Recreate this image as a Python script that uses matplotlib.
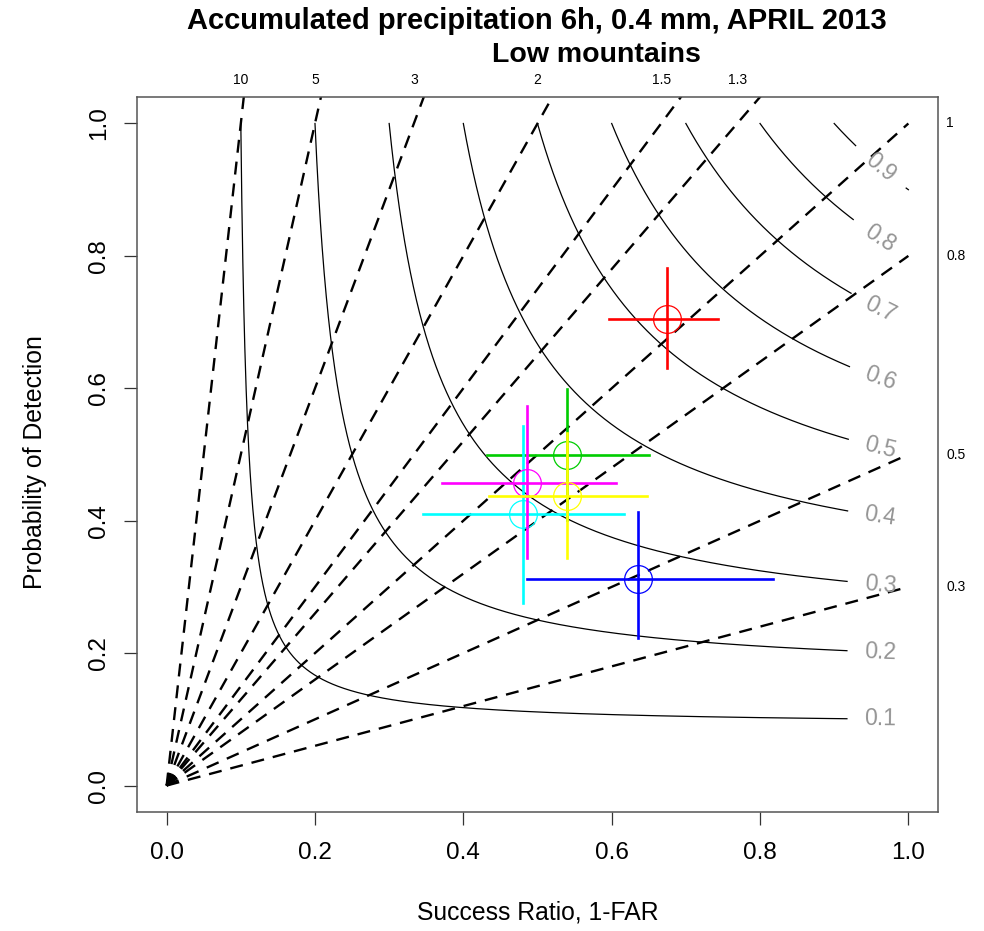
import numpy as np
import matplotlib.pyplot as plt

plt.rcParams['font.family'] = ['Liberation Sans', 'DejaVu Sans']

# frequency bias lines and CSI isolines
bias = [0.3, 0.5, 0.8, 1, 1.3, 1.5, 2, 3, 5, 10]
bias_top = ['10', '5', '3', '2', '1.5', '1.3']
bias_right = ['1', '0.8', '0.5', '0.3']
csi_levels = [0.1, 0.2, 0.3, 0.4, 0.5, 0.6, 0.7, 0.8, 0.9]

# scores: success ratio, POD and their intervals
colors = ['#FF0000', '#00CD00', '#0000FF', '#00FFFF', '#FF00FF', '#FFFF00']
sr = [0.674, 0.540, 0.635, 0.480, 0.486, 0.540]
sr_lo = [0.596, 0.432, 0.486, 0.345, 0.371, 0.435]
sr_hi = [0.744, 0.650, 0.818, 0.616, 0.606, 0.647]
pod = [0.705, 0.500, 0.312, 0.410, 0.457, 0.438]
pod_lo = [0.631, 0.401, 0.223, 0.275, 0.343, 0.343]
pod_hi = [0.781, 0.599, 0.413, 0.543, 0.573, 0.533]

fig = plt.figure(figsize=(9.84, 9.31), dpi=100)
ax = fig.add_axes([0.1392, 0.1278, 0.8141, 0.7680])
ax.set_xlim(-0.04, 1.04)
ax.set_ylim(-0.04, 1.04)
fig.canvas.draw()

# dashed bias lines from the origin
for b in bias:
    ax.plot([0, 1], [0, b], color='black', lw=1.7, linestyle=(0, (5.5, 3.8)),
            dash_capstyle='butt')

# CSI curves, broken where the label sits
tr = ax.transData
for c in csi_levels:
    x = np.linspace(c, 1, 2000)
    y = 1 / (1 / c - 1 / x + 1)
    xc = 0.962
    yc = 1 / (1 / c - 1 / xc + 1)
    pts = tr.transform(np.column_stack([x, y]))
    pc = tr.transform([xc, yc])
    d = np.hypot(pts[:, 0] - pc[0], pts[:, 1] - pc[1])
    yy = np.where(d < 33, np.nan, y)
    ax.plot(x, yy, color='black', lw=0.9)
    p1 = tr.transform([xc - 0.01, 1 / (1 / c - 1 / (xc - 0.01) + 1)])
    p2 = tr.transform([xc + 0.01, 1 / (1 / c - 1 / (xc + 0.01) + 1)])
    ang = np.degrees(np.arctan2(p2[1] - p1[1], p2[0] - p1[0]))
    ax.text(xc, yc, str(c), color='#959595', fontsize=16.5, rotation=ang,
            ha='center', va='center', rotation_mode='anchor')

# bias labels outside the box
for lab in bias_top:
    ax.text(1 / float(lab), 1.066, lab, fontsize=10, ha='center', va='center',
            clip_on=False)
for lab in bias_right:
    ax.text(1.051, float(lab), lab, fontsize=10, ha='left', va='center',
            clip_on=False)

# points with crossing error bars
for i in range(len(sr)):
    ax.plot([sr_lo[i], sr_hi[i]], [pod[i], pod[i]], color=colors[i], lw=1.9)
    ax.plot([sr[i], sr[i]], [pod_lo[i], pod_hi[i]], color=colors[i], lw=1.9)
    ax.plot(sr[i], pod[i], 'o', ms=20, mfc='none', mec=colors[i], mew=0.9)

ticks = [0.0, 0.2, 0.4, 0.6, 0.8, 1.0]
ax.set_xticks(ticks)
ax.set_yticks(ticks)
ax.set_xticklabels(['%.1f' % t for t in ticks])
ax.set_yticklabels(['%.1f' % t for t in ticks], rotation=90, va='center')
ax.tick_params(direction='out', length=9.5, width=0.9, labelsize=17.5,
               pad=12, color='#333333')
ax.tick_params(axis='y', pad=10)
for s in ax.spines.values():
    s.set_color('#555555')
    s.set_linewidth(1.1)

ax.set_xlabel('Success Ratio, 1-FAR', fontsize=17.8)
ax.set_ylabel('Probability of Detection', fontsize=17.8)
ax.xaxis.set_label_coords(0.5, -0.124)
ax.yaxis.set_label_coords(-0.112, 0.49)

fig.text(0.546, 0.9775, 'Accumulated precipitation 6h, 0.4 mm, APRIL 2013',
         fontsize=21, fontweight='bold', ha='center', va='center')
fig.text(0.606, 0.9405, 'Low mountains', fontsize=20.5, fontweight='bold',
         ha='center', va='center')

fig.savefig('out.png', dpi=100)
